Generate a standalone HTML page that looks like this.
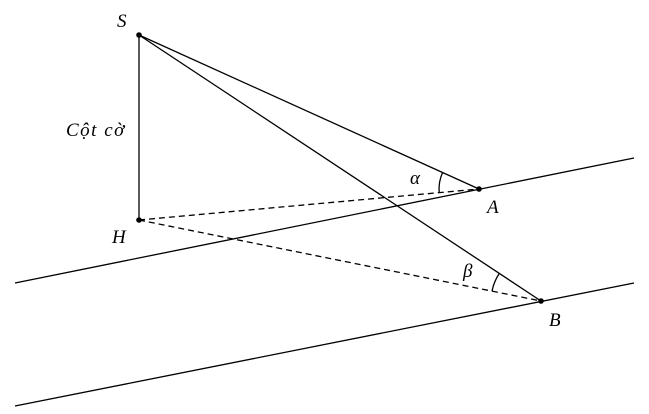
<!DOCTYPE html>
<html><head><meta charset="utf-8"><style>
html,body{margin:0;padding:0;background:#fff;}
svg{display:block;}
text{font-family:"Liberation Serif",serif;font-style:italic;font-size:19px;fill:#000;}
</style></head><body>
<svg width="649" height="414" viewBox="0 0 649 414" xmlns="http://www.w3.org/2000/svg">
<g stroke="#000" stroke-width="1.3" fill="none">
<line x1="15" y1="283" x2="634" y2="158"/>
<line x1="15" y1="406" x2="634" y2="283"/>
<line x1="139" y1="35" x2="139" y2="220"/>
<line x1="139" y1="35" x2="479" y2="189"/>
<line x1="139" y1="35" x2="541" y2="301"/>
<line x1="139" y1="220" x2="479" y2="189" stroke-dasharray="6,4"/>
<line x1="139" y1="220" x2="541" y2="301" stroke-dasharray="6,4"/>
<path d="M442.6,172.5 A40,40 0 0 0 439.2,192.6"/>
<path d="M499.3,273.4 A50,50 0 0 0 492,291.1"/>
</g>
<g fill="#000">
<circle cx="139" cy="35" r="2.8"/>
<circle cx="139" cy="220" r="2.8"/>
<circle cx="479" cy="189" r="2.8"/>
<circle cx="541" cy="301" r="2.8"/>
</g>
<text x="117" y="27">S</text>
<text x="112" y="243">H</text>
<text x="487" y="213">A</text>
<text x="549" y="326">B</text>
<text x="66" y="136" letter-spacing="1.5">Cột cờ</text>
<text x="410" y="184">α</text>
<text x="463" y="277">β</text>
</svg>
</body></html>
